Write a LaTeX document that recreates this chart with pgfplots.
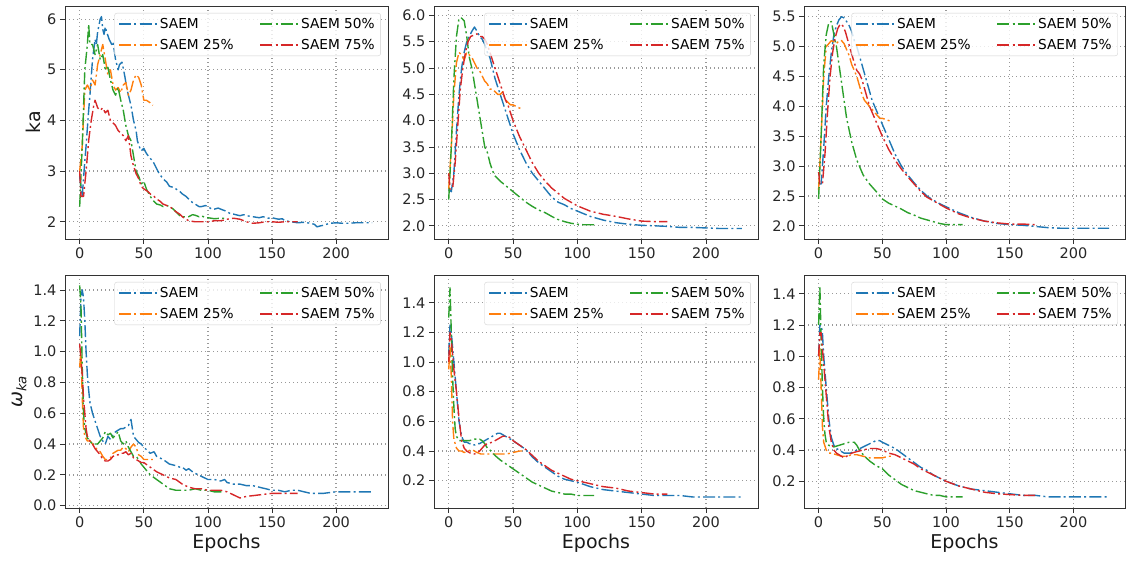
\documentclass[border=0pt]{standalone}
\usepackage{fontspec}
\setmainfont{DejaVu Sans}
\usepackage{pgfplots}
\pgfplotsset{compat=1.18}
\definecolor{tabblue}{HTML}{1F77B4}
\definecolor{taborange}{HTML}{FF7F0E}
\definecolor{tabgreen}{HTML}{2CA02C}
\definecolor{tabred}{HTML}{D62728}
\pgfplotsset{
 panel/.style={
  scale only axis, height=233pt,
  xmin=-11.45, xmax=240.45,
  xtick={0,50,100,150,200},
  grid=major,
  major grid style={line width=1.3pt, black!40, dash pattern=on 1.4pt off 2.6pt},
  axis line style={black!80, line width=0.8pt},
  tick align=outside, major tick length=5pt, xtick pos=bottom, ytick pos=left,
  every tick/.style={black!80, line width=0.8pt},
  tick label style={font=\fontsize{14.5}{15}\selectfont, black!85},
  /pgf/number format/assume math mode=true,
  label style={font=\fontsize{19}{20}\selectfont, black!90},
  legend columns=2, transpose legend,
  legend cell align=left,
  legend image code/.code={\draw[##1, line width=1.6pt] (0pt,0pt) -- (27pt,0pt); \path (0pt,0pt) -- (38pt,0pt);},
  legend style={at={(0.978,0.97)}, anchor=north east, draw=black!18, rounded corners=2.5pt, fill=white, fill opacity=0.8, text opacity=1, font=\fontsize{13.7}{14}\selectfont, inner xsep=4pt, inner ysep=3pt, row sep=5.3pt, /tikz/every even column/.append style={column sep=24pt}},
 },
 s/.style={line width=1.4pt, dash pattern=on 12pt off 3.2pt on 2pt off 3.2pt, line join=round},
 onedec/.style={yticklabel style={/pgf/number format/.cd, fixed, fixed zerofill, precision=1}},
}
\begin{document}
\begin{tikzpicture}
\path[use as bounding box] (0,0) rectangle (1126pt,561pt);
% ---------------- TL
\begin{axis}[panel, at={(65pt,322pt)}, anchor=south west, width=323pt,
  ymin=1.66, ymax=6.26, ytick={2,3,4,5,6}, ylabel={ka}]
\addplot[s, tabblue] coordinates {(0,2.9)(2,2.5)(4,3.2)(5,3.5)(7,4.2)(8,4.5)(10,5.2)(12,5.6)(13,5.5)(14,5.75)(16,6.0)(17,6.05)(18,5.8)(19,5.7)(20,5.85)(21,5.75)(23,5.6)(25,5.5)(26,5.55)(28,5.2)(30,5.0)(31,5.1)(33,5.15)(35,4.9)(37,4.6)(39,4.4)(40,4.3)(42,4.0)(44,3.8)(45,3.6)(47,3.45)(48,3.4)(50,3.45)(52,3.35)(55,3.25)(57,3.2)(60,3.05)(62,2.95)(65,2.85)(68,2.78)(70,2.7)(73,2.68)(75,2.65)(78,2.6)(80,2.55)(83,2.5)(85,2.45)(88,2.38)(90,2.35)(93,2.3)(95,2.3)(98,2.32)(100,2.3)(103,2.25)(105,2.25)(108,2.27)(110,2.25)(113,2.22)(115,2.2)(118,2.15)(120,2.15)(125,2.12)(128,2.14)(130,2.12)(135,2.1)(140,2.08)(143,2.1)(147,2.07)(150,2.08)(155,2.05)(158,2.06)(160,2.02)(165,2.0)(170,1.98)(175,1.99)(180,1.97)(183,1.95)(185,1.9)(188,1.92)(190,1.93)(195,1.97)(200,1.98)(205,1.97)(210,1.97)(215,1.98)(220,1.98)(228,1.98)};
\addlegendentry{SAEM}
\addplot[s, taborange] coordinates {(0,3.0)(2,3.5)(4,4.6)(6,4.7)(8,4.6)(10,4.8)(12,4.7)(14,5.1)(16,5.3)(18,5.5)(20,5.2)(22,4.9)(24,5.0)(26,4.7)(28,4.6)(30,4.65)(32,4.55)(34,4.7)(36,4.75)(38,4.5)(40,4.6)(42,4.8)(44,4.9)(46,4.85)(48,4.7)(50,4.4)(52,4.4)(55,4.35)(57,4.3)};
\addlegendentry{SAEM 25\%}
\addplot[s, tabgreen] coordinates {(0,2.3)(2,3.5)(4,5.0)(6,5.5)(7,5.9)(8,5.5)(10,5.5)(12,5.3)(14,5.5)(16,5.2)(18,5.3)(20,5.0)(22,5.05)(24,4.8)(26,4.6)(28,4.5)(30,4.65)(32,4.4)(34,4.2)(36,3.9)(38,3.7)(40,3.6)(42,3.3)(44,3.0)(46,2.9)(48,2.75)(50,2.8)(52,2.65)(55,2.5)(58,2.4)(60,2.35)(63,2.33)(65,2.3)(68,2.32)(70,2.3)(73,2.25)(75,2.2)(78,2.12)(80,2.1)(85,2.1)(88,2.14)(90,2.13)(93,2.1)(95,2.12)(98,2.08)(100,2.08)(105,2.06)(110,2.07)(113,2.07)};
\addlegendentry{SAEM 50\%}
\addplot[s, tabred] coordinates {(0,3.0)(1,2.5)(3,2.5)(5,3.0)(7,3.6)(9,4.0)(11,4.3)(12,4.4)(14,4.25)(16,4.2)(18,4.25)(20,4.15)(22,4.2)(24,4.0)(26,3.95)(28,3.9)(30,3.8)(32,3.75)(34,3.7)(36,3.6)(38,3.7)(40,3.3)(42,3.1)(44,2.95)(46,2.85)(48,2.7)(50,2.65)(53,2.6)(55,2.55)(58,2.5)(60,2.45)(63,2.4)(65,2.35)(68,2.32)(70,2.3)(73,2.25)(75,2.2)(78,2.15)(80,2.1)(83,2.05)(85,2.02)(90,2.0)(95,2.0)(100,2.0)(105,2.02)(110,2.02)(115,2.05)(120,2.07)(125,2.05)(130,2.0)(135,1.97)(140,1.98)(145,2.0)(150,2.0)(155,1.99)(160,2.0)(165,2.0)(170,2.0)};
\addlegendentry{SAEM 75\%}
\end{axis}
% ---------------- TM
\begin{axis}[panel, onedec, at={(434pt,322pt)}, anchor=south west, width=324pt,
  ymin=1.75, ymax=6.18, ytick={2,2.5,3,3.5,4,4.5,5,5.5,6}]
\addplot[s, tabblue] coordinates {(0,2.7)(2,2.65)(4,3.0)(6,3.8)(8,4.5)(10,5.0)(12,5.3)(14,5.5)(16,5.6)(18,5.7)(20,5.78)(22,5.7)(24,5.6)(26,5.55)(28,5.45)(30,5.3)(32,5.2)(34,5.0)(36,4.8)(38,4.65)(40,4.5)(42,4.35)(44,4.2)(46,4.05)(48,3.9)(50,3.75)(55,3.45)(60,3.2)(65,3.0)(70,2.85)(75,2.7)(80,2.55)(85,2.45)(90,2.4)(95,2.33)(100,2.28)(110,2.18)(120,2.11)(130,2.06)(140,2.03)(150,2.01)(160,2.0)(170,1.99)(180,1.97)(190,1.97)(200,1.96)(210,1.95)(220,1.95)(228,1.95)};
\addlegendentry{SAEM}
\addplot[s, taborange] coordinates {(0,2.7)(2,3.5)(4,4.5)(6,5.1)(8,5.3)(10,5.25)(12,5.15)(14,5.3)(16,5.25)(18,5.2)(20,5.1)(22,5.0)(24,4.95)(26,4.85)(28,4.75)(30,4.7)(32,4.6)(34,4.6)(36,4.55)(38,4.5)(40,4.5)(42,4.55)(44,4.4)(46,4.35)(48,4.3)(50,4.3)(54,4.25)(57,4.22)};
\addlegendentry{SAEM 25\%}
\addplot[s, tabgreen] coordinates {(0,2.5)(2,3.5)(4,4.8)(6,5.6)(8,5.95)(10,5.95)(12,5.9)(14,5.6)(16,5.2)(18,5.0)(20,4.7)(22,4.4)(24,4.1)(26,3.8)(28,3.5)(30,3.4)(32,3.2)(34,3.05)(36,2.95)(40,2.85)(45,2.75)(50,2.65)(55,2.55)(60,2.45)(65,2.37)(70,2.3)(75,2.25)(80,2.18)(85,2.12)(90,2.08)(95,2.05)(100,2.03)(105,2.02)(113,2.02)};
\addlegendentry{SAEM 50\%}
\addplot[s, tabred] coordinates {(0,3.0)(1,2.7)(3,2.7)(5,3.2)(7,3.9)(9,4.6)(11,5.0)(13,5.3)(15,5.5)(17,5.6)(20,5.63)(22,5.65)(24,5.6)(26,5.6)(28,5.55)(30,5.45)(32,5.3)(34,5.15)(36,5.0)(38,4.85)(40,4.7)(42,4.55)(44,4.4)(46,4.3)(48,4.15)(50,4.0)(55,3.7)(60,3.45)(65,3.2)(70,3.0)(75,2.85)(80,2.72)(85,2.62)(90,2.52)(95,2.45)(100,2.38)(110,2.28)(120,2.22)(130,2.18)(140,2.13)(150,2.09)(160,2.08)(170,2.08)};
\addlegendentry{SAEM 75\%}
\end{axis}
% ---------------- TR
\begin{axis}[panel, onedec, at={(804pt,322pt)}, anchor=south west, width=321pt,
  ymin=1.78, ymax=5.68, ytick={2,2.5,3,3.5,4,4.5,5,5.5}]
\addplot[s, tabblue] coordinates {(0,2.7)(2,2.7)(4,3.3)(6,4.0)(8,4.5)(10,4.9)(12,5.2)(14,5.35)(16,5.45)(18,5.5)(20,5.48)(22,5.42)(24,5.35)(26,5.25)(28,5.1)(30,5.0)(32,4.85)(34,4.7)(36,4.55)(38,4.4)(40,4.25)(42,4.1)(45,3.95)(48,3.8)(50,3.7)(55,3.45)(60,3.2)(65,3.0)(70,2.85)(75,2.72)(80,2.6)(85,2.5)(90,2.43)(95,2.37)(100,2.32)(110,2.22)(120,2.14)(130,2.08)(140,2.04)(150,2.02)(160,2.01)(170,1.99)(180,1.97)(190,1.96)(200,1.96)(210,1.96)(220,1.96)(228,1.96)};
\addlegendentry{SAEM}
\addplot[s, taborange] coordinates {(0,2.6)(2,3.5)(4,4.5)(6,5.0)(8,5.05)(10,5.1)(12,5.08)(14,5.05)(16,5.1)(18,5.1)(20,5.05)(22,4.95)(24,4.85)(26,4.7)(28,4.6)(30,4.5)(32,4.35)(34,4.2)(36,4.1)(38,4.05)(40,4.0)(42,3.95)(44,3.9)(46,3.85)(48,3.8)(50,3.8)(54,3.77)(57,3.75)};
\addlegendentry{SAEM 25\%}
\addplot[s, tabgreen] coordinates {(0,2.45)(2,3.5)(4,4.7)(6,5.2)(8,5.4)(10,5.42)(12,5.2)(14,5.0)(16,4.7)(18,4.4)(20,4.1)(22,3.8)(24,3.6)(26,3.4)(28,3.25)(30,3.1)(32,3.0)(35,2.85)(40,2.7)(45,2.58)(50,2.45)(55,2.38)(60,2.33)(65,2.28)(70,2.22)(75,2.18)(80,2.13)(85,2.1)(90,2.07)(95,2.04)(100,2.02)(105,2.02)(113,2.02)};
\addlegendentry{SAEM 50\%}
\addplot[s, tabred] coordinates {(0,2.9)(1,2.7)(3,2.7)(5,3.2)(7,3.9)(9,4.5)(11,4.9)(13,5.15)(15,5.3)(17,5.38)(19,5.35)(21,5.25)(23,5.1)(25,4.95)(27,4.8)(30,4.6)(32,4.55)(34,4.45)(36,4.3)(38,4.15)(40,4.0)(42,3.9)(45,3.75)(48,3.6)(50,3.5)(55,3.28)(60,3.1)(65,2.95)(70,2.82)(75,2.7)(80,2.58)(85,2.48)(90,2.42)(95,2.36)(100,2.3)(110,2.2)(120,2.13)(130,2.08)(140,2.05)(150,2.03)(160,2.03)(170,2.02)};
\addlegendentry{SAEM 75\%}
\end{axis}
% ---------------- BL
\begin{axis}[panel, onedec, at={(65pt,53pt)}, anchor=south west, width=323pt,
  ymin=-0.015, ymax=1.497, ytick={0,0.2,0.4,0.6,0.8,1.0,1.2,1.4},
  xlabel={Epochs}, ylabel={\itshape ω\textsubscript{ka}}]
\addplot[s, tabblue] coordinates {(0,1.1)(1,1.35)(2,1.4)(3,1.35)(4,1.2)(5,1.0)(6,0.85)(7,0.75)(8,0.67)(10,0.6)(12,0.55)(14,0.5)(16,0.45)(18,0.42)(20,0.4)(22,0.45)(24,0.43)(26,0.46)(28,0.48)(30,0.49)(32,0.5)(34,0.5)(36,0.51)(38,0.52)(40,0.56)(42,0.45)(44,0.43)(46,0.41)(48,0.4)(50,0.38)(55,0.34)(58,0.35)(60,0.32)(65,0.3)(70,0.27)(75,0.26)(78,0.25)(80,0.25)(83,0.23)(85,0.24)(88,0.22)(90,0.21)(95,0.19)(100,0.17)(105,0.17)(110,0.16)(113,0.17)(115,0.15)(120,0.14)(125,0.14)(130,0.13)(135,0.13)(140,0.12)(145,0.11)(150,0.1)(155,0.1)(160,0.09)(165,0.1)(170,0.1)(175,0.09)(180,0.08)(185,0.08)(190,0.08)(200,0.09)(210,0.09)(220,0.09)(228,0.09)};
\addlegendentry{SAEM}
\addplot[s, taborange] coordinates {(0,0.9)(1,1.0)(2,0.7)(3,0.5)(4,0.45)(6,0.42)(8,0.42)(10,0.4)(12,0.38)(14,0.36)(16,0.35)(18,0.32)(20,0.3)(22,0.3)(24,0.31)(26,0.34)(28,0.35)(30,0.36)(32,0.36)(34,0.38)(36,0.37)(38,0.35)(40,0.38)(42,0.4)(44,0.38)(46,0.33)(48,0.32)(50,0.3)(53,0.3)(57,0.3)};
\addlegendentry{SAEM 25\%}
\addplot[s, tabgreen] coordinates {(0,1.43)(1,1.3)(2,0.9)(3,0.6)(4,0.5)(6,0.44)(8,0.42)(10,0.4)(12,0.4)(14,0.4)(16,0.42)(18,0.44)(20,0.48)(22,0.46)(24,0.47)(26,0.44)(28,0.46)(30,0.48)(32,0.42)(34,0.4)(36,0.42)(38,0.38)(40,0.35)(42,0.32)(44,0.32)(46,0.3)(48,0.27)(50,0.25)(55,0.2)(60,0.17)(65,0.14)(70,0.11)(75,0.1)(80,0.1)(85,0.1)(90,0.11)(95,0.1)(100,0.1)(105,0.09)(110,0.09)(113,0.09)};
\addlegendentry{SAEM 50\%}
\addplot[s, tabred] coordinates {(0,1.05)(1,0.95)(2,0.85)(3,0.7)(4,0.6)(5,0.5)(6,0.45)(8,0.42)(10,0.4)(12,0.37)(14,0.35)(16,0.33)(18,0.3)(20,0.29)(22,0.29)(24,0.3)(26,0.32)(28,0.33)(30,0.33)(32,0.34)(34,0.34)(36,0.35)(38,0.33)(40,0.34)(42,0.31)(44,0.3)(46,0.29)(48,0.28)(50,0.28)(55,0.25)(60,0.22)(65,0.2)(70,0.18)(75,0.17)(80,0.14)(85,0.12)(90,0.11)(95,0.11)(100,0.1)(110,0.1)(115,0.09)(120,0.07)(125,0.05)(130,0.06)(140,0.07)(150,0.08)(160,0.08)(170,0.08)};
\addlegendentry{SAEM 75\%}
\end{axis}
% ---------------- BM
\begin{axis}[panel, onedec, at={(434pt,53pt)}, anchor=south west, width=324pt,
  ymin=0.016, ymax=1.587, ytick={0.2,0.4,0.6,0.8,1.0,1.2,1.4}, xlabel={Epochs}]
\addplot[s, tabblue] coordinates {(0,1.05)(1,1.25)(2,1.2)(3,1.1)(4,1.0)(6,0.8)(8,0.6)(10,0.5)(12,0.46)(14,0.46)(16,0.45)(18,0.45)(20,0.44)(22,0.45)(24,0.45)(26,0.46)(28,0.47)(30,0.48)(34,0.5)(38,0.52)(40,0.52)(42,0.51)(44,0.5)(46,0.49)(50,0.47)(55,0.44)(60,0.41)(65,0.36)(70,0.32)(75,0.29)(80,0.26)(85,0.23)(90,0.21)(95,0.2)(100,0.19)(110,0.16)(120,0.14)(130,0.13)(140,0.12)(150,0.11)(160,0.1)(170,0.1)(180,0.1)(190,0.09)(200,0.09)(210,0.09)(220,0.09)(228,0.09)};
\addlegendentry{SAEM}
\addplot[s, taborange] coordinates {(0,0.95)(1,1.1)(2,0.9)(3,0.6)(4,0.48)(6,0.42)(8,0.4)(10,0.4)(12,0.39)(15,0.4)(18,0.41)(20,0.4)(22,0.39)(25,0.38)(30,0.38)(35,0.38)(40,0.38)(45,0.38)(50,0.39)(55,0.4)(57,0.4)};
\addlegendentry{SAEM 25\%}
\addplot[s, tabgreen] coordinates {(0,1.3)(1,1.5)(2,1.2)(3,0.9)(4,0.7)(5,0.55)(6,0.5)(8,0.47)(12,0.47)(16,0.47)(20,0.48)(24,0.48)(26,0.47)(28,0.45)(30,0.42)(33,0.4)(36,0.37)(40,0.34)(45,0.31)(50,0.28)(55,0.25)(60,0.22)(65,0.19)(70,0.17)(75,0.15)(80,0.13)(85,0.12)(90,0.11)(95,0.11)(100,0.1)(105,0.1)(113,0.1)};
\addlegendentry{SAEM 50\%}
\addplot[s, tabred] coordinates {(0,1.0)(1,1.2)(2,1.15)(3,1.05)(4,0.95)(6,0.8)(8,0.62)(10,0.47)(12,0.42)(14,0.4)(16,0.39)(18,0.38)(20,0.38)(22,0.39)(24,0.4)(26,0.42)(28,0.44)(30,0.45)(34,0.46)(38,0.48)(42,0.5)(45,0.5)(48,0.49)(50,0.47)(55,0.44)(60,0.41)(65,0.37)(70,0.33)(75,0.3)(80,0.27)(85,0.25)(90,0.23)(95,0.21)(100,0.2)(110,0.18)(120,0.16)(130,0.15)(140,0.13)(150,0.12)(160,0.11)(170,0.11)};
\addlegendentry{SAEM 75\%}
\end{axis}
% ---------------- BR
\begin{axis}[panel, onedec, at={(804pt,53pt)}, anchor=south west, width=321pt,
  ymin=0.029, ymax=1.52, ytick={0.2,0.4,0.6,0.8,1.0,1.2,1.4}, xlabel={Epochs}]
\addplot[s, tabblue] coordinates {(0,1.0)(1,1.2)(2,1.2)(3,1.15)(4,1.0)(6,0.8)(8,0.6)(10,0.48)(12,0.43)(14,0.41)(16,0.4)(18,0.39)(20,0.38)(25,0.38)(30,0.4)(35,0.42)(40,0.44)(45,0.46)(48,0.46)(50,0.45)(55,0.43)(60,0.41)(65,0.38)(70,0.35)(75,0.32)(80,0.29)(85,0.27)(90,0.24)(95,0.22)(100,0.2)(110,0.17)(120,0.15)(130,0.14)(140,0.13)(150,0.12)(160,0.11)(170,0.11)(180,0.1)(190,0.1)(200,0.1)(210,0.1)(220,0.1)(228,0.1)};
\addlegendentry{SAEM}
\addplot[s, taborange] coordinates {(0,0.85)(1,1.05)(2,0.8)(3,0.55)(4,0.45)(6,0.4)(8,0.38)(10,0.38)(14,0.37)(18,0.36)(22,0.36)(26,0.37)(30,0.37)(35,0.36)(40,0.35)(45,0.35)(50,0.35)(55,0.36)(57,0.36)};
\addlegendentry{SAEM 25\%}
\addplot[s, tabgreen] coordinates {(0,1.2)(1,1.45)(2,1.1)(3,0.8)(4,0.6)(5,0.5)(6,0.45)(8,0.43)(12,0.42)(16,0.43)(20,0.44)(24,0.45)(28,0.45)(30,0.43)(32,0.4)(36,0.36)(40,0.33)(45,0.3)(50,0.28)(55,0.24)(60,0.21)(65,0.18)(70,0.16)(75,0.14)(80,0.13)(85,0.12)(90,0.11)(95,0.11)(100,0.1)(105,0.1)(113,0.1)};
\addlegendentry{SAEM 50\%}
\addplot[s, tabred] coordinates {(0,1.0)(1,1.15)(2,1.15)(3,1.05)(4,0.95)(6,0.75)(8,0.55)(10,0.45)(12,0.4)(14,0.38)(16,0.37)(18,0.36)(20,0.35)(22,0.36)(26,0.38)(30,0.39)(35,0.4)(40,0.41)(45,0.41)(50,0.4)(55,0.38)(60,0.37)(65,0.35)(70,0.33)(75,0.31)(80,0.28)(85,0.26)(90,0.24)(95,0.22)(100,0.2)(110,0.17)(120,0.15)(130,0.13)(140,0.12)(150,0.115)(160,0.11)(170,0.11)};
\addlegendentry{SAEM 75\%}
\end{axis}
\end{tikzpicture}
\end{document}
